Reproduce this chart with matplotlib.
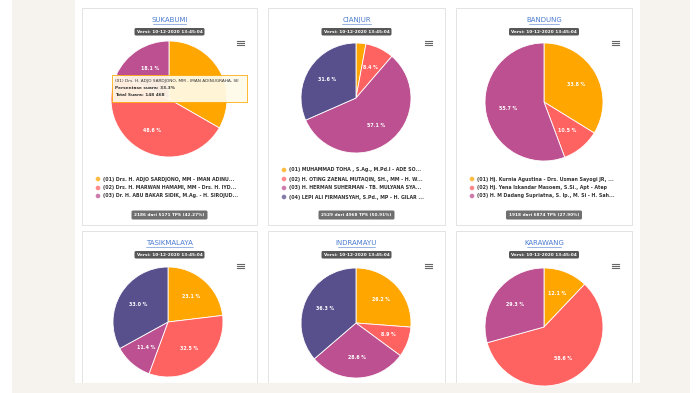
import matplotlib
matplotlib.use("Agg")
import matplotlib.pyplot as plt
from matplotlib.patches import Rectangle, FancyBboxPatch, Circle

W, H = 700, 393

# vote share per region (%), candidate order (01), (02), (03), (04)
regions = ["SUKABUMI", "CIANJUR", "BANDUNG", "TASIKMALAYA", "INDRAMAYU", "KARAWANG"]
sukabumi = [33.3, 48.6, 18.1]
cianjur = [2.9, 8.4, 57.1, 31.6]
bandung = [33.8, 10.5, 55.7]
tasikmalaya = [23.1, 32.5, 11.4, 33.0]
indramayu = [26.2, 8.9, 28.6, 36.3]
karawang = [12.1, 58.6, 29.3]
values = [sukabumi, cianjur, bandung, tasikmalaya, indramayu, karawang]

palette = ["#ffa600", "#ff6361", "#bc5090", "#58508d"]
versi = "Versi: 10-12-2020 13:45:04"

legend_sukabumi = ["(01) Drs. H. ADJO SARDJONO, MM - IMAN ADINU...",
                   "(02) Drs. H. MARWAN HAMAMI, MM - Drs. H. IYD...",
                   "(03) Dr. H. ABU BAKAR SIDIK, M.Ag. - H. SIROJUD..."]
legend_cianjur = ["(01) MUHAMMAD TOHA , S.Ag., M.Pd.I - ADE SO...",
                  "(02) H. OTING ZAENAL MUTAQIN, SH., MM - H. W...",
                  "(03) H. HERMAN SUHERMAN - TB. MULYANA SYA...",
                  "(04) LEPI ALI FIRMANSYAH, S.Pd., MP - H. GILAR ..."]
legend_bandung = ["(01) Hj. Kurnia Agustina - Drs. Usman Sayogi JR, ...",
                  "(02) Hj. Yena Iskandar Masoem, S.Si., Apt - Atep",
                  "(03) H. M Dadang Supriatna, S. Ip., M. Si - H. Sah..."]
legends = [legend_sukabumi, legend_cianjur, legend_bandung]
footers = ["2186 dari 5171 TPS (42.27%)", "2529 dari 4968 TPS (50.91%)",
           "1918 dari 6874 TPS (27.90%)"]

tooltip = ["(01) Drs. H. ADJO SARDJONO, MM - IMAN ADINUGRAHA, SE",
           "Persentase suara: 33.3%",
           "Total Suara: 148 468"]

# layout (pixels)
cards_x = [(82, 257), (268, 445), (456, 632)]
rows_y = [(8, 225), (231, 395)]
pie_xy = [(169, 99, 58), (356, 98, 55), (544, 102, 59),
          (168, 322, 55), (356, 323, 55), (544, 327, 59)]
legend_y = [[179, 188, 196], [170, 179, 188, 197], [179, 188, 196]]

fig = plt.figure(figsize=(W / 100, H / 100), dpi=100, facecolor="white")
bg = fig.add_axes([0, 0, 1, 1], zorder=0)
bg.set_xlim(0, W)
bg.set_ylim(H, 0)
bg.axis("off")

beige = "#f6f2ee"
bg.add_patch(Rectangle((12, 0), 63, H, color=beige, lw=0))
bg.add_patch(Rectangle((640, 0), 50, H, color=beige, lw=0))

for r, (y0, y1) in enumerate(rows_y):
    for c, (x0, x1) in enumerate(cards_x):
        i = r * 3 + c
        bg.add_patch(Rectangle((x0, y0), x1 - x0, y1 - y0, facecolor="white",
                               edgecolor="#dedede", lw=0.6))
        mx = (x0 + x1) / 2
        ty = y0 + 12
        # title (link style)
        bg.text(mx, ty, regions[i], ha="center", va="center", fontsize=5.0,
                color="#4a7bd0")
        uw = len(regions[i]) * 4.2
        bg.plot([mx - uw / 2, mx + uw / 2], [ty + 4, ty + 4], color="#4a7bd0", lw=0.4)
        # version badge
        bg.add_patch(FancyBboxPatch((mx - 35, ty + 8), 70, 7.5,
                                    boxstyle="round,pad=0,rounding_size=1.5",
                                    facecolor="#575757", lw=0))
        bg.text(mx, ty + 11.9, versi, ha="center", va="center", fontsize=3.1,
                color="white", weight="bold")
        # menu icon
        for k in range(3):
            yy = ty + 21 + k * 2.2
            bg.plot([x1 - 20, x1 - 13], [yy, yy], color="#666666", lw=0.8)

# legends and footers for the first row
for c, (x0, x1) in enumerate(cards_x):
    for k, (txt, yy) in enumerate(zip(legends[c], legend_y[c])):
        bg.add_patch(Circle((x0 + 16, yy), 2.3, color=palette[k], alpha=0.75, lw=0))
        bg.text(x0 + 21, yy, txt, ha="left", va="center", fontsize=3.45,
                color="#333333", weight="bold")
    mx = (x0 + x1) / 2
    bg.add_patch(FancyBboxPatch((mx - 38, 210.5), 76, 9,
                                boxstyle="round,pad=0,rounding_size=1.5",
                                facecolor="#6f6f6f", lw=0))
    bg.text(mx, 215, footers[c], ha="center", va="center", fontsize=3.1,
            color="white", weight="bold")

bg.add_patch(Rectangle((12, 383), 678, 10, color=beige, lw=0))

# pies
for i, vals in enumerate(values):
    cx, cy, r = pie_xy[i]
    ax = fig.add_axes([(cx - r) / W, 1 - (cy + r) / H, 2 * r / W, 2 * r / H], zorder=1)
    wedges, texts, pcts = ax.pie(vals, colors=palette[:len(vals)], startangle=90,
                                 counterclock=False,
                                 wedgeprops=dict(edgecolor="white", lw=0.6),
                                 autopct=lambda p: f"{p:.1f} %", pctdistance=0.62,
                                 textprops=dict(color="white", fontsize=3.4,
                                                weight="bold"))
    # tiny slices get no label in the original
    for v, t in zip(vals, pcts):
        if v < 5:
            t.set_visible(False)
    if i == 0:
        # this label sits under the tooltip in the original
        pcts[0].set_visible(False)
    ax.set_xlim(-1.0, 1.0)
    ax.set_ylim(-1.0, 1.0)
    ax.set_aspect("auto")
    ax.axis("off")

# tooltip over Sukabumi
fg = fig.add_axes([0, 0, 1, 1], zorder=2)
fg.set_xlim(0, W)
fg.set_ylim(H, 0)
fg.axis("off")
fg.patch.set_alpha(0)
fg.add_patch(Rectangle((112, 75), 135, 27, facecolor="#fffbea", edgecolor="#ffa600",
                       lw=0.6, alpha=0.92))
fg.text(115, 81, tooltip[0], ha="left", va="center", fontsize=3.1, color="#333333")
fg.text(115, 88, tooltip[1], ha="left", va="center", fontsize=3.1, color="#333333",
        weight="bold")
fg.text(115, 95, tooltip[2], ha="left", va="center", fontsize=3.1, color="#333333",
        weight="bold")

fig.savefig("out.png", dpi=100, facecolor="white")
